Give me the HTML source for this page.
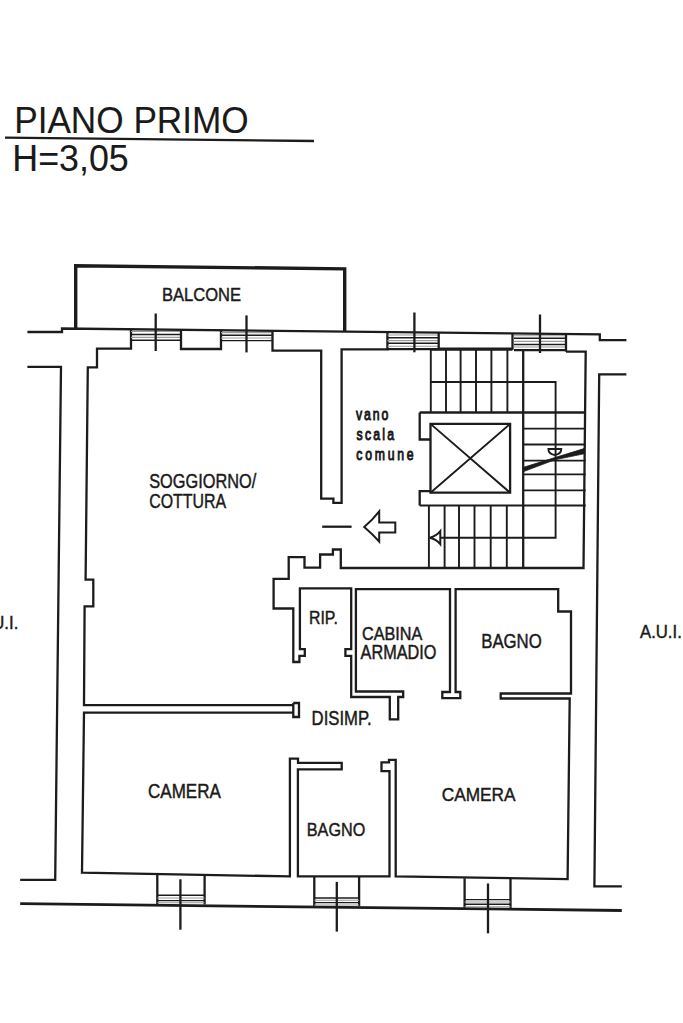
<!DOCTYPE html>
<html><head><meta charset="utf-8"><title>Piano Primo</title>
<style>
html,body{margin:0;padding:0;background:#fff;}
body{width:683px;height:1023px;overflow:hidden;}
svg{display:block;}
text{font-family:"Liberation Sans",sans-serif;fill:#1a1a1a;stroke:#1a1a1a;stroke-width:0.45;}
.tt{stroke-width:0.3;}
.w{fill:none;stroke:#1c1c1c;stroke-width:2.3;stroke-linejoin:miter;stroke-linecap:butt;}
.t{fill:none;stroke:#1c1c1c;stroke-width:1.9;}
.wl{fill:none;stroke:#1c1c1c;stroke-width:1.4;}
.fl{fill:none;stroke:#9a9a9a;stroke-width:1.1;}
.b{fill:none;stroke:#1c1c1c;stroke-width:3.4;}
</style></head>
<body>
<svg width="683" height="1023" viewBox="0 0 683 1023">
<!-- TITLE -->
<text style="stroke-width:0.1" x="14.2" y="132.5" font-size="36.5" textLength="234.5" lengthAdjust="spacingAndGlyphs">PIANO PRIMO</text>
<path class="w" style="stroke-width:2.4" d="M5,137.6 L314,141"/>
<text style="stroke-width:0.1" x="12.3" y="170.6" font-size="37.6" textLength="116.5" lengthAdjust="spacingAndGlyphs">H=3,05</text>

<!-- BALCONY -->
<path class="b" d="M75.7,329 V265.7 L344.7,268.9 V331"/>
<text x="162" y="301" font-size="18" textLength="79" lengthAdjust="spacingAndGlyphs">BALCONE</text>

<!-- TOP EXTERIOR LINE -->
<path class="w" d="M27.4,332 H62 V328.5 L599.8,334.3 V340.2 H626.4"/>


<!-- LEFT EXTERIOR WALL -->
<path class="w" d="M27.4,366.8 H61 L55.2,879.8 H20.2"/>
<!-- BOTTOM EXTERIOR -->
<path class="w" style="stroke-width:2.8" d="M20.2,903.6 L621.8,910.5"/>
<!-- RIGHT EXTERIOR -->
<path class="w" d="M626.4,374.4 H599.2 L594.4,886.3 H621.8"/>

<!-- PIER 1 + soggiorno left wall + camera left wall -->
<path class="w" d="M131,328.7 V348.6 H97 V367.3 H87.8 L85.6,579.6 H93.3 V606.4 H84.6 L84,705.2 H293.3"/>
<path class="w" d="M293.3,703 H299 V717 H293.3 V703"/>
<path class="w" d="M293.3,712.6 H84 L82,872.6 L289.9,876.4 V758.7 H298 V762.9 H341.7 V769.4 H297.9 V876.4 H389.5 V771.1 H381.5 V762.4 H389 V759.9 H395.7 V876.4 L567.6,879.1 L569.7,698.5 H500.7 V693.5 H571 V611.5 H558.2 V589.2 H455.6 V692 H460.3 V698.2 H442.3 V692 H450 V589.2 H355.9 V691.5 H403.2 V697 H398.2 V719.3 H389.8 V697 H351.2 V655.9 H345.4 V649.1 H351.2 V588.4 H299.9 V649.1 H304.8 V655.9 H299.4 V662 H293.3 V608.5 H273.6 V578.9 H288.7 V557.1 H304.5 V567.7 H320.1 V554.5 H332.9 V549.5 H340.8 V568 H583.5 L585.7,351.6 H566"/>

<!-- WINDOW 1 -->
<path class="wl" d="M131,334.5 H181 M131,340.2 H181"/><path class="fl" d="M131,331.5 H181 M131,337.4 H181"/>
<path class="w" d="M155.7,313.5 V351"/>
<!-- PIER 2 -->
<path class="w" d="M181,329.2 V349 H221 V329.7"/>
<!-- WINDOW 2 -->
<path class="wl" d="M221,335.3 H272.5 M221,340.6 H272.5"/><path class="fl" d="M221,332.6 H272.5 M221,338 H272.5"/>
<path class="w" d="M246.5,315.4 V352.4"/>
<!-- PIER 3 -->
<path class="w" d="M272.5,330.3 V350.6 H321.2 V498.6 H333.4 V502.8 H341.6 V349.3 H387.4 V331"/>
<!-- WINDOW 3 -->
<path class="wl" d="M387.4,337.8 H438.7 M387.4,343.3 H438.7"/><path class="w" d="M387.4,349.1 H438.7"/><path class="fl" d="M387.4,335 H438.7 M387.4,340.6 H438.7 M387.4,346.2 H438.7"/>
<path class="w" d="M414.4,312.5 V352.3"/>
<!-- PIER 4 -->
<path class="w" d="M438.7,332 V348.7 H512.5 V333"/>
<!-- WINDOW 4 -->
<path class="wl" d="M514,338.3 H566 M514,344.5 H566"/><path class="w" d="M514,350.1 H566"/><path class="fl" d="M514,335.7 H566 M514,341.4 H566 M514,347 H566"/>
<path class="w" d="M566,333.8 V351.6"/>
<path class="w" d="M540,314.5 V353"/>

<!-- STAIRS -->
<path class="w" d="M430.5,349.5 H512.5"/>
<path class="t" d="M430.8,350 V412.5 M446,350 V412.5 M460.6,350 V412.5 M476,350 V412.5 M491.4,350 V412.5 M507.4,350 V412.5"/>
<path class="w" d="M523.2,350 V568"/>
<path class="w" d="M419.7,412.5 H585.7"/>
<path class="t" d="M430.8,382 H555.6 V537.7 H440"/>
<path class="t" d="M523.2,428.6 H585.7 M523.2,444.5 H585.7 M523.2,460.6 H585.7 M523.2,474.4 H585.7 M523.2,490.4 H585.7 M419.7,505.5 H585.7"/>
<path class="w" d="M419.7,412.5 V439.5 H430.5 M430.5,491.1 H419.7 V505.5"/>
<path class="w" d="M430.5,423.9 H510.1 V492.7 H430.5 Z"/>
<path class="t" d="M430.5,423.9 L510.1,492.7 M510.1,423.9 L430.5,492.7"/>
<path class="t" d="M428.9,505.5 V568 M444.6,505.5 V568 M459,505.5 V568 M474.5,505.5 V568 M490.7,505.5 V568 M506.8,505.5 V568"/>
<path style="fill:#1c1c1c;stroke:#1c1c1c;stroke-width:0.8" d="M523.5,467.3 L584,448.6 L584,453.8 L554.8,459.8 L523.5,471.6 Z"/>
<path class="t" d="M548.4,449 H561.3 Q561.3,454 554.8,455 Q548.4,454 548.4,449 Z"/>
<path class="t" style="stroke-width:2" d="M429.8,537.7 Q436.5,536 440.3,531.2 V544.2 Q436.5,539.4 429.8,537.7 Z"/>

<!-- DOOR + ARROW -->
<path class="w" d="M322.2,526.7 H351.6"/>
<path class="w" style="stroke-width:2" d="M364.2,527 Q373,519.5 379.2,511.4 V522.6 H395.3 V532.5 H379.2 V541.6 Q373,534.5 364.2,527 Z"/>

<!-- RIGHT CAMERA lower windows -->
<path class="w" d="M157.3,874 V904.2 M204.6,874.5 V904.6"/>
<path class="wl" d="M157.3,895.3 H204.6 M157.3,900.6 H204.6"/><path class="fl" d="M157.3,898 H204.6 M157.3,902.8 H204.6"/>
<path class="w" d="M180.4,879.3 V929.7"/>
<path class="w" d="M314.3,876.4 V906 M359.1,876.4 V906.3"/>
<path class="wl" d="M314.3,898 H359.1 M314.3,902.6 H359.1"/><path class="fl" d="M314.3,900.3 H359.1 M314.3,905 H359.1"/>
<path class="w" d="M336.8,881.9 V931.6"/>
<path class="w" d="M464.6,878.2 V908 M510.5,878.8 V908.5"/>
<path class="wl" d="M464.6,899.6 H510.5 M464.6,904.3 H510.5"/><path class="fl" d="M464.6,902 H510.5 M464.6,906.8 H510.5"/>
<path class="w" d="M488,883.5 V933.3"/>

<!-- LABELS -->
<text x="149.2" y="488.4" font-size="20" textLength="107" lengthAdjust="spacingAndGlyphs">SOGGIORNO/</text>
<text x="149.2" y="507.6" font-size="20" textLength="76.8" lengthAdjust="spacingAndGlyphs">COTTURA</text>
<text x="309" y="624" font-size="18.6" textLength="28.8" lengthAdjust="spacingAndGlyphs">RIP.</text>
<text x="362" y="639.7" font-size="18.2" textLength="60.3" lengthAdjust="spacingAndGlyphs">CABINA</text>
<text x="360.6" y="659.4" font-size="19.5" textLength="75.8" lengthAdjust="spacingAndGlyphs">ARMADIO</text>
<text x="481.2" y="647.5" font-size="20" textLength="60.6" lengthAdjust="spacingAndGlyphs">BAGNO</text>
<text x="311.6" y="724.8" font-size="19.5" textLength="60" lengthAdjust="spacingAndGlyphs">DISIMP.</text>
<text x="148" y="797.9" font-size="19.7" textLength="72.8" lengthAdjust="spacingAndGlyphs">CAMERA</text>
<text x="306.8" y="836.3" font-size="18.8" textLength="58.5" lengthAdjust="spacingAndGlyphs">BAGNO</text>
<text x="441.7" y="801" font-size="19.2" textLength="73.8" lengthAdjust="spacingAndGlyphs">CAMERA</text>
<text x="640" y="637.6" font-size="18.6" textLength="41.8" lengthAdjust="spacingAndGlyphs">A.U.I.</text>
<text x="-23.5" y="629.2" font-size="18.6" textLength="41.8" lengthAdjust="spacingAndGlyphs">A.U.I.</text>
<g transform="translate(355,0) scale(0.72,1)">
<text x="1.4" y="420.5" font-size="17" style="stroke-width:1" textLength="45" lengthAdjust="spacing">vano</text>
<text x="2.2" y="440" font-size="17" style="stroke-width:1" textLength="52" lengthAdjust="spacing">scala</text>
<text x="1.8" y="459.6" font-size="17" style="stroke-width:1" textLength="79.5" lengthAdjust="spacing">comune</text>
</g>

</svg>
</body></html>
